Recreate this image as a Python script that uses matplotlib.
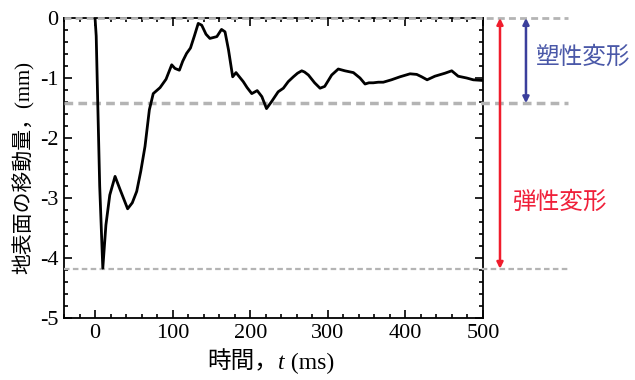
import matplotlib
matplotlib.use("Agg")
import matplotlib.pyplot as plt
import matplotlib.transforms as mtransforms
from matplotlib.ticker import MultipleLocator

# ---- data ----
t_ms = [0, 1.5, 3.5, 6, 10, 14, 19, 25.8, 32, 42, 48, 53.7, 59, 64.4, 70, 75,
        83.8, 91.5, 98.8, 103, 108.7, 113, 118, 123, 128, 133, 137.5, 143, 148,
        157, 163, 167.5, 172, 177.4, 181.7, 186, 191, 196, 202, 209, 215, 221,
        227.7, 236, 242.7, 249, 255.6, 261, 266.4, 270, 275, 283, 290, 296, 305,
        313.5, 322, 333, 341.5, 348, 353, 358.6, 365, 371.5, 382, 393, 406,
        414.6, 421, 428, 438, 451, 459.7, 468, 479, 487.5, 499]
disp_mm = [0.0, -0.3, -1.42, -2.8, -4.17, -3.45, -2.95, -2.64, -2.85, -3.18,
           -3.08, -2.89, -2.55, -2.14, -1.53, -1.26, -1.16, -1.02, -0.78, -0.84,
           -0.87, -0.72, -0.59, -0.50, -0.30, -0.09, -0.12, -0.27, -0.34, -0.31,
           -0.19, -0.23, -0.53, -0.98, -0.91, -0.98, -1.06, -1.16, -1.26, -1.21,
           -1.31, -1.51, -1.39, -1.23, -1.17, -1.06, -0.98, -0.92, -0.88, -0.90,
           -0.95, -1.08, -1.17, -1.14, -0.95, -0.85, -0.88, -0.91, -1.00, -1.10,
           -1.08, -1.08, -1.07, -1.07, -1.03, -0.98, -0.93, -0.94, -0.98, -1.03,
           -0.97, -0.92, -0.88, -0.97, -1.00, -1.03, -1.04]

ref_levels = [0.0, -1.42, -4.18]          # dashed reference levels
plastic_label = "塑性変形"
elastic_label = "弾性変形"
xlabel_parts = ["時間，", "t", " (ms)"]
ylabel = "地表面の移動量，(mm)"
xticks = [0, 100, 200, 300, 400, 500]
yticks = [0, -1, -2, -3, -4, -5]

plt.rcParams['font.family'] = ['Liberation Serif', 'Noto Sans CJK JP', 'DejaVu Sans']

fig = plt.figure(figsize=(6.35, 3.8), dpi=100)
ax = fig.add_axes([0.1008, 0.1632, 0.6598, 0.7894])

ax.plot(t_ms, disp_mm, color='black', lw=2.0, zorder=5, solid_joinstyle='round')

ax.set_xlim(-40, 500)
ax.set_ylim(-5, 0)
ax.set_xticks(xticks)
ax.set_yticks(yticks)
ax.set_yticklabels([str(v) for v in yticks])
ax.xaxis.set_minor_locator(MultipleLocator(20))
ax.yaxis.set_minor_locator(MultipleLocator(0.2))
ax.tick_params(which='both', direction='in', top=True, right=True, width=1.2)
ax.tick_params(which='major', length=6, labelsize=16, pad=4)
ax.tick_params(which='minor', length=3)
for s in ax.spines.values():
    s.set_linewidth(1.3)

ax.set_ylabel(ylabel, fontsize=15, labelpad=4)

# x label built from pieces (CJK + italic t + serif units)
t0 = fig.text(0.326, 0.03, xlabel_parts[0], fontsize=17, ha='left', va='baseline',
              family=['Noto Sans CJK JP'])
t1 = ax.annotate(xlabel_parts[1], xy=(1, 0), xycoords=t0, fontsize=17,
                 ha='left', va='bottom', style='italic', family=['Liberation Serif'])
t2 = ax.annotate(xlabel_parts[2], xy=(1, 0), xycoords=t1, fontsize=17,
                 ha='left', va='bottom', family=['Liberation Serif'])

trans = mtransforms.blended_transform_factory(ax.transAxes, ax.transData)
lws = [2.0, 2.5, 1.6]
for lvl, lw in zip(ref_levels, lws):
    ax.plot([0, 1.203], [lvl, lvl], transform=trans, clip_on=False,
            color='#b4b4b4', lw=lw, ls=(0, (2.5, 1.5)), zorder=3)

ax.annotate('', xy=(1.0406, ref_levels[0]), xytext=(1.0406, ref_levels[2]),
            xycoords=trans, textcoords=trans, annotation_clip=False,
            arrowprops=dict(arrowstyle='<|-|>', color='#f01c2c', lw=1.8,
                            mutation_scale=9, shrinkA=0, shrinkB=0))
ax.annotate('', xy=(1.1026, ref_levels[0]), xytext=(1.1026, ref_levels[1]),
            xycoords=trans, textcoords=trans, annotation_clip=False,
            arrowprops=dict(arrowstyle='<|-|>', color='#3b3f9c', lw=1.8,
                            mutation_scale=9, shrinkA=0, shrinkB=0))

ax.text(1.239, -0.65, plastic_label, transform=trans, color='#4a58a8',
        fontsize=17, ha='center', va='center', family=['Noto Sans CJK JP'])
ax.text(1.184, -3.08, elastic_label, transform=trans, color='#f0203a',
        fontsize=17, ha='center', va='center', family=['Noto Sans CJK JP'])

fig.savefig('out.png', dpi=100, facecolor='white')
